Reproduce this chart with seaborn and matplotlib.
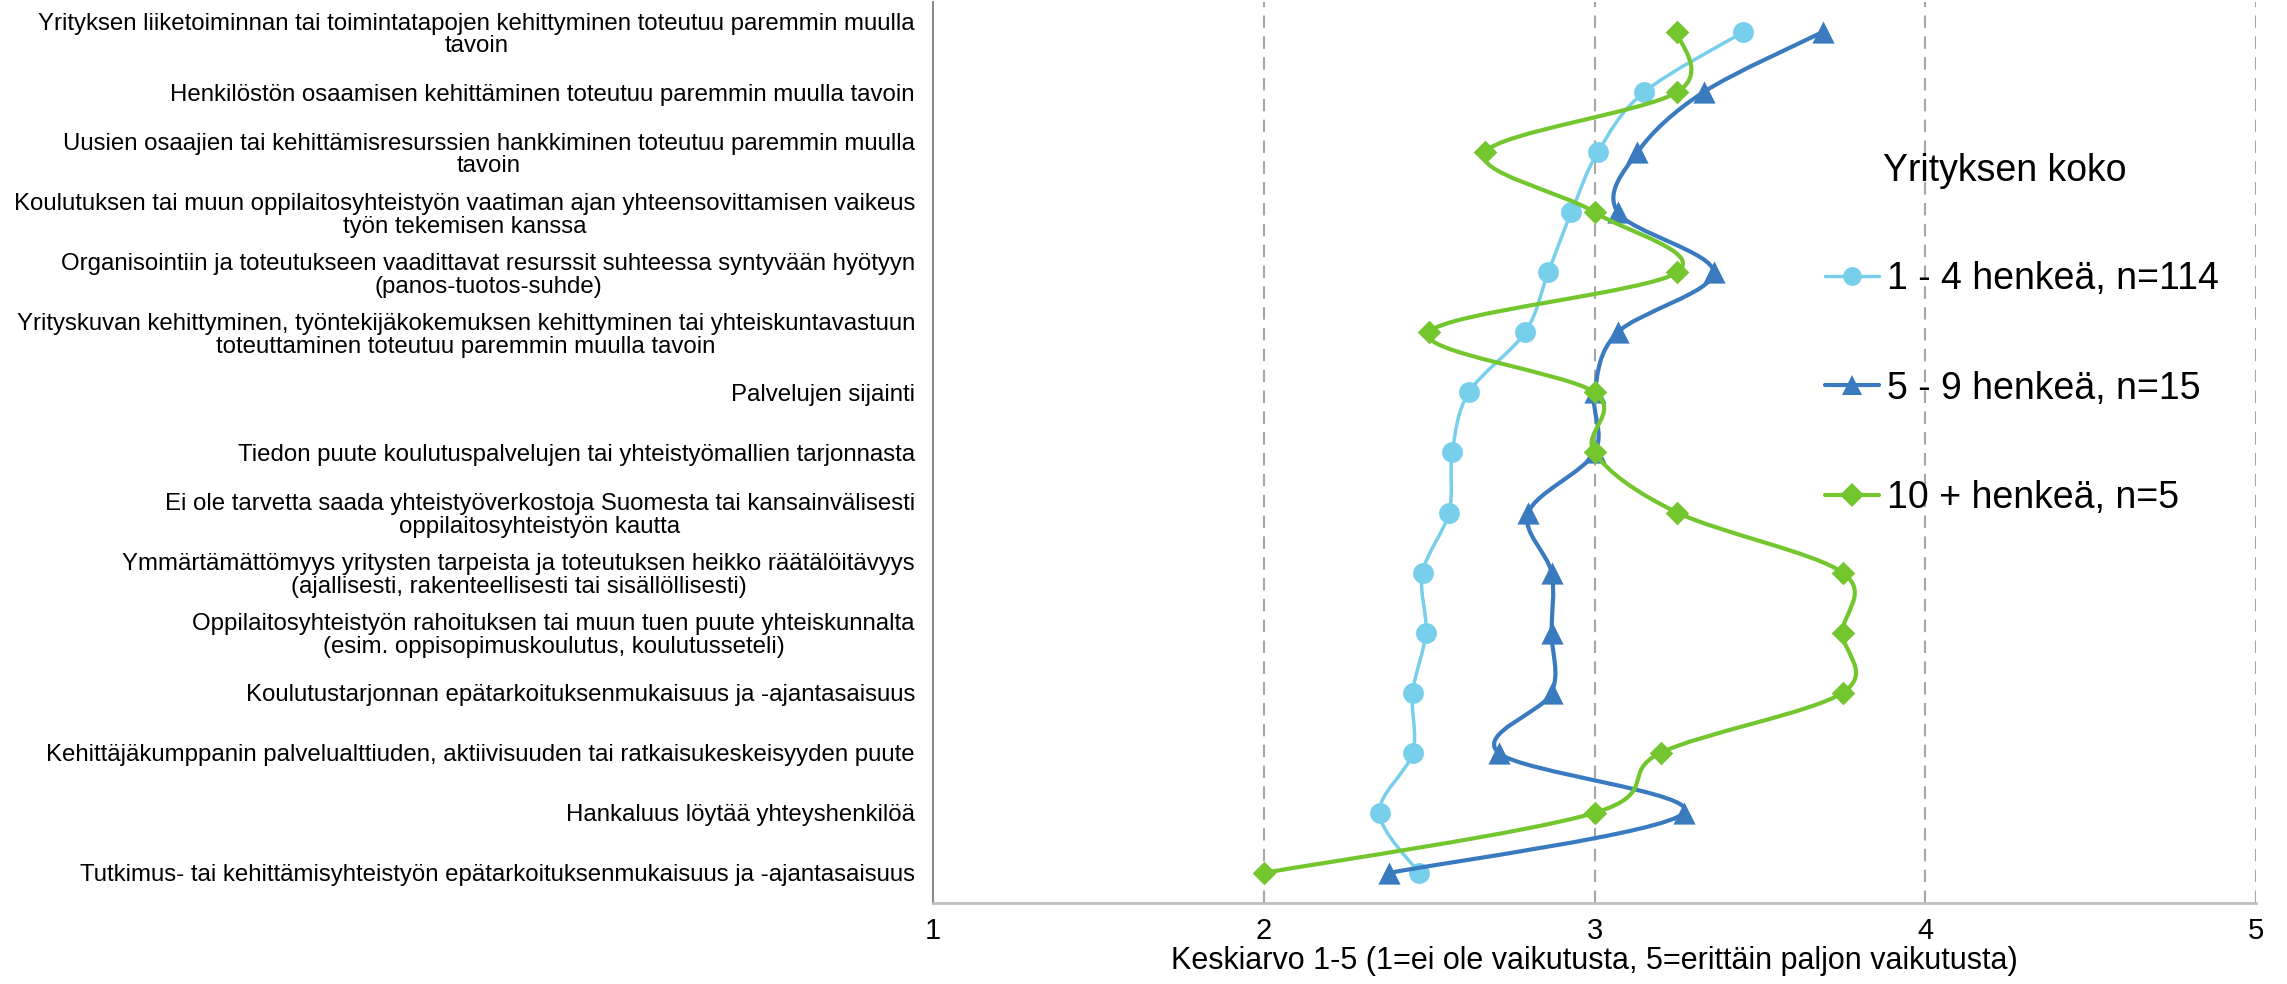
import numpy as np
import pandas as pd
import matplotlib
matplotlib.use("Agg")
import matplotlib.pyplot as plt
from matplotlib.path import Path
from matplotlib.patches import PathPatch
from matplotlib.lines import Line2D
import seaborn as sns

# Survey statements (top to bottom)
categories = [
    "Yrityksen liiketoiminnan tai toimintatapojen kehittyminen toteutuu paremmin muulla\ntavoin",
    "Henkilöstön osaamisen kehittäminen toteutuu paremmin muulla tavoin",
    "Uusien osaajien tai kehittämisresurssien hankkiminen toteutuu paremmin muulla\ntavoin",
    "Koulutuksen tai muun oppilaitosyhteistyön vaatiman ajan yhteensovittamisen vaikeus\ntyön tekemisen kanssa",
    "Organisointiin ja toteutukseen vaadittavat resurssit suhteessa syntyvään hyötyyn\n(panos-tuotos-suhde)",
    "Yrityskuvan kehittyminen, työntekijäkokemuksen kehittyminen tai yhteiskuntavastuun\ntoteuttaminen toteutuu paremmin muulla tavoin",
    "Palvelujen sijainti",
    "Tiedon puute koulutuspalvelujen tai yhteistyömallien tarjonnasta",
    "Ei ole tarvetta saada yhteistyöverkostoja Suomesta tai kansainvälisesti\noppilaitosyhteistyön kautta",
    "Ymmärtämättömyys yritysten tarpeista ja toteutuksen heikko räätälöitävyys\n(ajallisesti, rakenteellisesti tai sisällöllisesti)",
    "Oppilaitosyhteistyön rahoituksen tai muun tuen puute yhteiskunnalta\n(esim. oppisopimuskoulutus, koulutusseteli)",
    "Koulutustarjonnan epätarkoituksenmukaisuus ja -ajantasaisuus",
    "Kehittäjäkumppanin palvelualttiuden, aktiivisuuden tai ratkaisukeskeisyyden puute",
    "Hankaluus löytää yhteyshenkilöä",
    "Tutkimus- tai kehittämisyhteistyön epätarkoituksenmukaisuus ja -ajantasaisuus",
]

# Mean values per company size
size_1_4 = [3.45, 3.15, 3.01, 2.93, 2.86, 2.79, 2.62, 2.57, 2.56, 2.48, 2.49, 2.45, 2.45, 2.35, 2.47]
size_5_9 = [3.69, 3.33, 3.13, 3.07, 3.36, 3.07, 3.00, 3.00, 2.80, 2.87, 2.87, 2.87, 2.71, 3.27, 2.38]
size_10 = [3.25, 3.25, 2.67, 3.00, 3.25, 2.50, 3.00, 3.00, 3.25, 3.75, 3.75, 3.75, 3.20, 3.00, 2.00]

series_names = ["1 - 4 henkeä, n=114", "5 - 9 henkeä, n=15", "10 + henkeä, n=5"]
x_ticks = [1, 2, 3, 4, 5]

colors = {series_names[0]: "#78CFEB", series_names[1]: "#3A7BBF", series_names[2]: "#74C62F"}
markers = {series_names[0]: "o", series_names[1]: "^", series_names[2]: "D"}
sizes = {series_names[0]: 15, series_names[1]: 16, series_names[2]: 12}
widths = {series_names[0]: 2.5, series_names[1]: 3.0, series_names[2]: 3.0}

rows = []
for name, vals in zip(series_names, [size_1_4, size_5_9, size_10]):
    for i, v in enumerate(vals):
        rows.append({"group": name, "pos": i, "value": v})
df = pd.DataFrame(rows)

sns.set_theme(style="white")
plt.rcParams["font.family"] = ["Liberation Sans", "DejaVu Sans"]
plt.rcParams["text.color"] = "black"
plt.rcParams["axes.labelcolor"] = "black"


def smooth_path(xs, ys):
    # Excel-like smoothed line through the points (Catmull-Rom as Bezier)
    pts = np.column_stack([xs, ys]).astype(float)
    n = len(pts)
    verts = [pts[0]]
    codes = [Path.MOVETO]
    for i in range(n - 1):
        p0 = pts[max(i - 1, 0)]
        p1 = pts[i]
        p2 = pts[i + 1]
        p3 = pts[min(i + 2, n - 1)]
        verts += [p1 + (p2 - p0) / 6, p2 - (p3 - p1) / 6, p2]
        codes += [Path.CURVE4] * 3
    return Path(verts, codes)


fig = plt.figure(figsize=(22.87, 9.84), dpi=100)
ax = fig.add_axes([933 / 2287, 1 - 903 / 984, (2256 - 933) / 2287, 903 / 984 - 0.002])

for k, name in enumerate(series_names):
    sub = df[df["group"] == name]
    patch = PathPatch(smooth_path(sub["value"], sub["pos"]), facecolor="none",
                      edgecolor=colors[name], lw=widths[name], zorder=3 + 2 * k)
    ax.add_patch(patch)
    sns.scatterplot(data=sub, x="value", y="pos", marker=markers[name],
                    color=colors[name], s=sizes[name] ** 2, linewidth=0,
                    legend=False, ax=ax, zorder=4 + 2 * k)

ax.set_xlim(1, 5)
ax.set_ylim(len(categories) - 0.5, -0.5)
ax.set_xticks(x_ticks)
ax.set_xticklabels([str(t) for t in x_ticks], fontsize=21)
ax.set_yticks(range(len(categories)))
ax.set_yticklabels(categories, fontsize=17.3)
for t in ax.get_yticklabels():
    t.set_multialignment("center")
    t.set_linespacing(1.05)
ax.tick_params(axis="both", length=0, colors="black")
ax.tick_params(axis="y", pad=13)
ax.tick_params(axis="x", pad=10)

for xv in x_ticks[1:]:
    ax.axvline(xv, color="#A6A6A6", lw=1.5, ls=(0, (6, 4)), zorder=1)

for side in ["top", "right"]:
    ax.spines[side].set_visible(False)
ax.spines["left"].set_color("#8C8C8C")
ax.spines["left"].set_linewidth(1.5)
ax.spines["bottom"].set_color("#BFBFBF")
ax.spines["bottom"].set_linewidth(2)

ax.set_xlabel("Keskiarvo 1-5 (1=ei ole vaikutusta, 5=erittäin paljon vaikutusta)",
              fontsize=22, labelpad=0.5, color="black")
ax.set_ylabel("")

handles = [Line2D([0], [0], color=colors[n], lw=widths[n], marker=markers[n],
                  markersize=sizes[n] * (0.9 if markers[n] != "D" else 1.0),
                  markeredgewidth=0) for n in series_names]
ax.legend(handles, series_names, fontsize=27, frameon=False, loc="upper left",
          bbox_to_anchor=(1825 / 2287, 1 - 261 / 984),
          bbox_transform=fig.transFigure, borderpad=0, borderaxespad=0,
          labelspacing=1.96, handlelength=1.45, handletextpad=0.2,
          labelcolor="black")
fig.text(1883 / 2287, 1 - 171 / 984, "Yrityksen koko", fontsize=27,
         ha="left", va="center", color="black")

plt.savefig("out.png", dpi=100)
